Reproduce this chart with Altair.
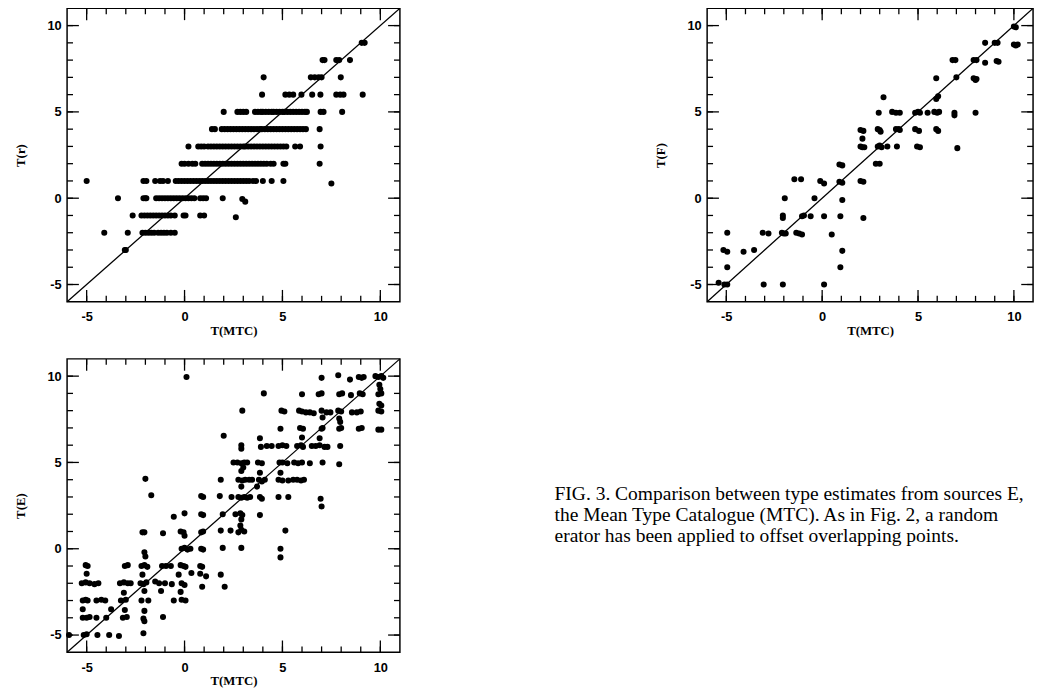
import altair as alt
import pandas as pd

DOMAIN = [-6, 11]
MAJOR_TICKS = [-5, 0, 5, 10]
MINOR_TICKS = [-5, -4, -3, -2, -1, 0, 1, 2, 3, 4, 5, 6, 7, 8, 9, 10]
DIAG = [-6, 11]

# ---- Panel T(r) vs T(MTC): rows of points (y level -> x positions) ----
R_ROWS = {
    9: [9.05, 9.2],
    8: [7.05, 7.15, 7.75, 7.9, 8.45],
    7: [4.04, 6.45, 6.65, 6.85, 7.0, 7.98],
    6: [3.96, 5.15, 5.35, 5.55, 5.97, 6.52, 6.94, 7.75, 7.95, 8.12, 9.1],
    5: [2.0, 2.7, 2.85, 3.0, 3.15, 3.6, 3.75, 3.9, 4.0, 4.15, 4.3, 4.45, 4.55, 4.7,
        4.85, 5.0, 5.1, 5.25, 5.4, 5.55, 5.7, 5.85, 6.0, 6.15, 6.25, 6.95, 7.1, 8.05],
    4: [1.4, 1.55, 1.9, 2.05, 2.2, 2.35, 2.5, 2.65, 2.8, 2.95, 3.1, 3.25, 3.4, 3.55,
        3.7, 3.85, 3.95, 4.1, 4.25, 4.4, 4.55, 4.7, 4.85, 5.0, 5.15, 5.3, 5.45, 5.6,
        5.75, 5.9, 6.05, 6.2, 6.9],
    3: [0.2, 0.7, 0.85, 1.0, 1.2, 1.35, 1.5, 1.65, 1.8, 1.95, 2.1, 2.25, 2.4, 2.55,
        2.7, 2.85, 3.0, 3.1, 3.25, 3.4, 3.55, 3.7, 3.85, 4.0, 4.15, 4.3, 4.45, 4.6,
        4.75, 4.9, 5.05, 5.2, 5.65, 5.9, 6.95],
    2: [-0.15, 0.0, 0.2, 0.4, 0.55, 0.9, 1.05, 1.2, 1.35, 1.5, 1.65, 1.8, 1.95, 2.1,
        2.25, 2.4, 2.55, 2.7, 2.85, 3.0, 3.15, 3.3, 3.45, 3.6, 3.75, 3.9, 4.05, 4.2,
        4.4, 4.55, 5.05, 5.15, 6.9],
    1: [-5.0, -2.1, -1.95, -1.5, -1.25, -1.1, -0.85, -0.45, -0.3, -0.15, 0.0, 0.15,
        0.3, 0.45, 0.6, 0.75, 0.9, 1.05, 1.2, 1.35, 1.5, 1.65, 1.8, 1.95, 2.1, 2.25,
        2.4, 2.55, 2.7, 2.85, 3.0, 3.15, 3.3, 3.5, 3.65, 4.0, 4.45, 5.05],
    0: [-3.4, -2.1, -2.0, -1.95, -1.45, -1.3, -1.15, -1.0, -0.85, -0.7, -0.55, -0.4,
        -0.25, -0.1, 0.05, 0.2, 0.35, 0.5, 0.8, 0.95, 1.1, 1.95],
    -1: [-2.65, -2.2, -2.05, -1.9, -1.75, -1.6, -1.45, -1.3, -1.15, -1.0, -0.85,
         -0.7, -0.5, -0.05, 0.05, 0.8, 1.0],
    -2: [-4.1, -2.9, -2.15, -2.0, -1.85, -1.7, -1.55, -1.35, -1.2, -1.05, -0.9,
         -0.7, -0.5],
    -3: [-3.05, -3.0],
}
R_EXTRA_X = [7.5, 2.62, 2.95, 3.1]
R_EXTRA_Y = [0.85, -1.1, -0.05, -0.2]

# ---- Panel T(F) vs T(MTC) ----
F_X = [-5.4, -5.1, -4.95, -4.95, -5.15, -4.95, -4.95, -4.1, -3.55, -3.05, -3.1, -2.8,
       -2.05, -2.1, -2.0, -1.9, -2.05, -2.05, -1.95, -1.45, -1.1, -1.35, -1.2, -1.05,
       -1.05, -0.95, -0.6, -0.4, -0.1, 0.1, 0.1, 0.1, 0.5, 0.9, 1.05, 0.9, 1.05, 1.05,
       0.95, 1.05, 0.95, 2.0, 2.15, 2.1, 2.0, 2.1, 2.2, 2.0, 2.15, 2.15, 3.2, 2.95,
       3.65, 3.85, 4.05, 4.85, 5.0, 5.1, 5.5, 5.85, 6.0, 6.1, 6.9, 6.9, 8.0, 2.9, 3.0,
       3.05, 3.85, 4.0, 4.05, 4.85, 5.05, 5.95, 6.05, 2.9, 3.0, 3.1, 3.4, 3.9, 4.95,
       5.1, 7.05, 2.8, 3.0, 6.05, 5.95, 5.95, 7.0, 7.9, 8.0, 8.05, 6.8, 6.95, 7.9,
       8.05, 8.5, 9.1, 9.2, 8.5, 9.0, 9.15, 10.0, 10.1, 10.2, 10.0, 10.1]
F_Y = [-4.9, -5.0, -5.0, -4.0, -3.0, -3.1, -2.0, -3.1, -3.0, -5.0, -2.0, -2.05,
       -5.0, -2.0, -2.05, -2.05, -1.0, -1.15, 0.0, 1.1, 1.1, -2.0, -2.05, -2.1,
       -1.05, -1.0, -1.05, 0.0, 1.0, 0.85, -1.05, -5.0, -2.1, 1.95, 1.9, 0.95, 0.9,
       -0.1, -1.05, -3.05, -4.0, 3.95, 3.9, 3.45, 3.0, 2.95, 2.95, 1.0, 0.95, -1.15,
       5.85, 4.95, 5.0, 4.95, 4.95, 4.95, 5.0, 4.95, 4.95, 5.0, 4.95, 5.0, 4.95, 4.8,
       4.95, 4.0, 3.95, 3.85, 4.0, 4.0, 3.95, 4.0, 3.9, 4.0, 3.9, 3.0, 3.05, 2.95,
       3.0, 3.0, 3.0, 2.95, 2.9, 2.0, 2.0, 5.9, 5.75, 6.95, 7.0, 6.95, 6.85, 6.9,
       8.0, 8.0, 8.0, 8.0, 7.85, 7.95, 7.9, 9.0, 9.0, 9.0, 8.9, 8.85, 8.9, 9.95, 9.9]

# ---- Panel T(E) vs T(MTC) ----
E_X = [0.1, 7.0, 7.85, 8.45, 8.9, 9.05, 9.15, 9.75, 9.9, 10.05, 10.15, 9.95, 10.0, 9.95,
       4.05, 6.0, 6.85, 7.0, 7.9, 8.05, 8.5, 8.95, 9.1, 9.9, 10.05,
       2.95, 4.95, 5.1, 5.85, 6.0, 6.2, 6.4, 6.6, 7.0, 7.25, 7.45, 7.85, 8.0, 8.55, 8.8,
       9.0, 9.9, 10.05, 7.05, 7.9, 7.95, 10.05,
       4.9, 5.9, 6.05, 7.0, 7.05, 7.9, 8.0, 8.9, 9.05, 9.9, 10.05,
       3.85, 6.0, 6.9, 2.0,
       2.9, 3.9, 4.2, 4.45, 4.8, 5.0, 5.2, 5.75, 5.95, 6.05, 6.5, 6.7, 6.9, 7.15, 7.3,
       7.95, 2.9,
       2.5, 2.7, 2.9, 3.05, 3.2, 3.75, 3.95, 4.85, 5.0, 5.25, 5.6, 5.8, 6.0, 6.4, 7.05,
       7.9, 2.9, 3.85, 4.9, 3.0,
       1.85, 2.75, 2.95, 3.1, 3.3, 3.45, 3.8, 3.95, 4.1, 4.8, 5.0, 5.3, 5.55, 5.75, 5.95,
       6.1, 2.9, 3.7,
       -1.7, 0.85, 0.95, 1.8, 2.4, 2.75, 2.9, 3.05, 3.2, 3.35, 3.85, 3.95, 4.8, 5.3, 6.95,
       7.0,
       -2.0, -0.55, 0.0, 0.85, 0.95, 1.95, 2.6, 2.85, 2.95, 3.85, 2.9, 2.85,
       -2.15, -2.05, -1.1, -0.2, -0.05, 0.0, 0.85, 0.95, 1.85, 2.35, 2.75, 2.9, 3.05, 5.15,
       -2.05, -2.0, -0.15, 0.0, 0.15, 0.3, 0.85, 0.95, 1.95, 2.9, 4.9, 4.9,
       -5.05, -4.95, -3.05, -2.9, -2.2, -2.05, -1.9, -1.15, -0.95, -0.7, -0.2, -0.05, 0.05,
       0.8, 0.9,
       -5.0, -2.15, -0.3, 0.35, 0.8, 1.1, 1.85,
       -5.25, -5.05, -4.85, -4.6, -4.4, -3.3, -3.1, -2.9, -2.75, -2.25, -2.1, -1.95, -1.5,
       -1.3, -1.0, -0.65, -0.15, 0.0, 0.9, 2.05,
       -2.05, -1.2, -0.2, -3.1,
       -5.2, -5.05, -4.95, -4.5, -4.25, -4.05, -3.25, -3.0, -2.2, -1.85, -0.55, -0.15, 0.05,
       -5.2, -3.75, -3.05, -2.05,
       -5.2, -5.0, -4.85, -4.5, -4.0, -3.15, -2.95, -2.1, -1.1, -2.05,
       -5.9, -5.15, -5.0, -4.45, -3.85, -3.35, -2.1]
E_Y = [9.95, 9.9, 10.05, 9.8, 9.95, 9.9, 9.95, 10.0, 9.95, 10.0, 9.9, 9.5, 9.25, 8.4,
       9.0, 8.95, 8.95, 9.0, 8.95, 9.0, 8.9, 9.0, 8.95, 8.95, 9.0,
       8.0, 8.0, 7.95, 8.0, 7.95, 7.9, 7.9, 7.85, 8.0, 7.9, 7.9, 8.0, 7.95, 7.9, 7.9,
       7.95, 8.0, 7.95, 7.6, 7.55, 7.35, 8.3,
       6.95, 7.0, 6.95, 6.95, 7.0, 6.95, 7.0, 6.95, 7.0, 6.9, 6.9,
       6.4, 6.45, 6.4, 6.55,
       6.0, 5.9, 5.95, 5.95, 5.95, 6.0, 5.95, 5.95, 6.0, 5.9, 5.95, 5.95, 6.0, 5.9, 5.9,
       5.95, 5.8,
       5.0, 5.0, 4.95, 5.0, 5.0, 5.0, 4.95, 5.0, 5.0, 4.95, 5.0, 4.95, 5.0, 4.95, 5.0,
       4.9, 4.5, 4.4, 4.4, 4.7,
       4.0, 4.0, 3.95, 4.0, 4.0, 4.0, 4.0, 3.9, 4.0, 4.0, 3.95, 3.95, 4.0, 4.0, 3.95,
       4.0, 3.6, 3.6,
       3.1, 3.05, 3.0, 3.05, 3.0, 3.0, 2.95, 3.0, 2.95, 3.0, 3.0, 2.9, 3.0, 3.0, 2.9,
       2.45,
       4.05, 1.85, 2.05, 2.0, 1.95, 2.0, 2.0, 2.05, 1.95, 1.95, 1.7, 1.35,
       0.95, 0.95, 0.9, 1.0, 0.95, 0.75, 0.95, 1.0, 1.05, 1.05, 0.95, 1.1, 1.0, 1.05,
       -0.2, -0.45, 0.0, 0.05, -0.05, 0.0, 0.0, -0.05, 0.05, 0.05, 0.0, -0.5,
       -0.95, -1.0, -1.0, -0.95, -1.0, -0.95, -1.05, -1.0, -1.0, -1.0, -0.95, -1.0, -1.05,
       -1.0, -1.05,
       -1.45, -1.5, -1.5, -1.4, -1.45, -1.6, -1.5,
       -2.0, -1.95, -2.0, -2.05, -2.0, -2.0, -1.95, -2.0, -2.0, -2.0, -2.05, -1.95, -1.9,
       -2.0, -2.0, -2.05, -2.0, -2.1, -2.2, -2.2,
       -2.45, -2.45, -2.5, -2.55,
       -3.0, -2.95, -3.0, -3.0, -2.95, -3.0, -3.0, -2.95, -3.0, -3.0, -3.0, -2.95, -3.0,
       -3.5, -3.5, -3.55, -3.6,
       -4.0, -4.0, -3.95, -4.0, -4.0, -4.0, -3.95, -4.05, -3.95, -4.2,
       -5.0, -5.0, -4.95, -5.0, -5.0, -5.05, -4.9]

CAPTION = ("FIG. 3. Comparison between type estimates from sources E,\n"
           "the Mean Type Catalogue (MTC). As in Fig. 2, a random\n"
           "erator has been applied to offset overlapping points.")

LABEL_EXPR = "datum.value < 0 ? '-' + abs(datum.value) : '' + datum.value"

r_x, r_y = [], []
for level, xs in R_ROWS.items():
    r_x += xs
    r_y += [level] * len(xs)
r_x += R_EXTRA_X
r_y += R_EXTRA_Y

r_df = pd.DataFrame({"x": r_x, "y": r_y})
f_df = pd.DataFrame({"x": F_X, "y": F_Y})
e_df = pd.DataFrame({"x": E_X, "y": E_Y})
diag_df = pd.DataFrame({"x": DIAG, "y": DIAG})
major_df = pd.DataFrame({"x": MAJOR_TICKS, "y": MAJOR_TICKS})
minor_df = pd.DataFrame({"x": MINOR_TICKS, "y": MINOR_TICKS})

MAJOR_LEN = 12
MINOR_LEN = 6


def panel(df, ytitle, w, h):
    xs = alt.Scale(domain=DOMAIN, nice=False, zero=False)
    ys = alt.Scale(domain=DOMAIN, nice=False, zero=False)
    xaxis = alt.Axis(values=MAJOR_TICKS, title="T(MTC)", ticks=False, tickSize=0,
                     domain=False, grid=False, labelPadding=9, titlePadding=1,
                     labelExpr=LABEL_EXPR)
    yaxis = alt.Axis(values=MAJOR_TICKS, title=ytitle, ticks=False, tickSize=0,
                     domain=False, grid=False, labelPadding=6, titlePadding=20,
                     labelExpr=LABEL_EXPR)
    X = alt.X("x:Q", scale=xs, axis=xaxis)
    Y = alt.Y("y:Q", scale=ys, axis=yaxis)

    pts = alt.Chart(df).mark_circle(size=38, color="black", opacity=1).encode(x=X, y=Y)
    diag = alt.Chart(diag_df).mark_line(color="black", strokeWidth=1.3).encode(x=X, y=Y)
    layers = [pts, diag]
    for tdf, ln in [(minor_df, MINOR_LEN), (major_df, MAJOR_LEN)]:
        base = alt.Chart(tdf).mark_rule(color="black", strokeWidth=1.3)
        layers.append(base.encode(y=Y, x=alt.value(0), x2=alt.value(ln)))
        layers.append(base.encode(y=Y, x=alt.value(w - ln), x2=alt.value(w)))
        layers.append(base.encode(x=X, y=alt.value(0), y2=alt.value(ln)))
        layers.append(base.encode(x=X, y=alt.value(h - ln), y2=alt.value(h)))
    return alt.layer(*layers).properties(
        width=w, height=h,
        view=alt.ViewBackground(stroke="black", strokeWidth=1.5))


p_r = panel(r_df, "T(r)", 338, 298)
p_f = panel(f_df, "T(F)", 331, 298)
p_e = panel(e_df, "T(E)", 338, 298)

cap_df = pd.DataFrame({"t": [CAPTION]})
caption = alt.Chart(cap_df).mark_text(
    align="left", baseline="alphabetic", font="Liberation Serif", fontSize=19.8,
    lineBreak="\n", lineHeight=21.5, color="black"
).encode(x=alt.value(0), y=alt.value(143), text="t:N").properties(
    width=460, height=298,
    view=alt.ViewBackground(stroke="transparent", strokeWidth=0))

row1 = alt.hconcat(p_r, p_f, spacing=253)
row2 = alt.hconcat(p_e, caption, spacing=153)
chart = alt.vconcat(row1, row2, spacing=17).properties(
    padding={"left": 5, "top": -9, "right": 0, "bottom": 0},
    background="white"
).configure_view(stroke="transparent").configure_axis(
    labelFont="Liberation Sans", labelFontSize=13, labelFontWeight="bold",
    labelColor="black", titleFont="Liberation Serif", titleFontSize=13,
    titleFontWeight="bold", titleColor="black"
)

chart.save("out.html", embed_options={"renderer": "svg", "actions": False})
